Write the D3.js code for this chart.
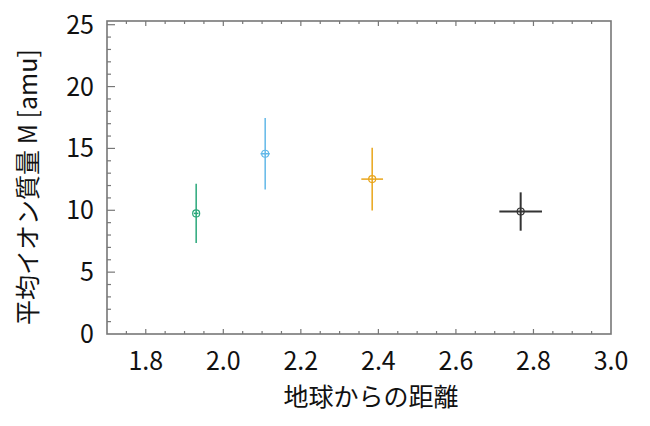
<!DOCTYPE html>
<html lang="ja">
<head>
<meta charset="UTF-8">
<title>平均イオン質量</title>
<script src="https://d3js.org/d3.v7.min.js"></script>
<style>
  body { margin: 0; background: #fff; }
  svg { display: block; font-family: "Noto Sans CJK JP", sans-serif; }
</style>
</head>
<body>
<svg width="650" height="426"></svg>
<script>
// values
const distance = [1.93, 2.108, 2.384, 2.767];
const distanceErr = [0.006, 0.012, 0.028, 0.055];
const meanMass = [9.75, 14.57, 12.52, 9.9];
const meanMassErr = [2.4, 2.88, 2.54, 1.55];
const pointColors = ["#2aa77a", "#62b8e8", "#e9a51a", "#333333"];
const xTicks = [1.8, 2.0, 2.2, 2.4, 2.6, 2.8, 3.0];
const yTicks = [0, 5, 10, 15, 20, 25];
const xLabel = "地球からの距離";
const yLabel = "平均イオン質量 M [amu]";

const svg = d3.select("svg");
const margin = { left: 107, right: 39, top: 21, bottom: 92 };
const width = 650, height = 426;

const x = d3.scaleLinear().domain([1.7, 3.0]).range([margin.left, width - margin.right]);
const y = d3.scaleLinear().domain([0, 25.3]).range([height - margin.bottom, margin.top]);

const frameColor = "#777";
const x0 = x.range()[0], x1 = x.range()[1], y0 = y.range()[0], y1 = y.range()[1];

// minor + major ticks, pointing inward
const xMinor = d3.range(1.75, 3.0, 0.05);
const yMinor = d3.range(1, 25.01, 1);
const ticks = svg.append("g").attr("stroke", frameColor).attr("stroke-width", 1.2);
xMinor.forEach(v => {
  const major = xTicks.some(t => Math.abs(t - v) < 1e-6);
  const len = major ? 5 : 3;
  ticks.append("line").attr("x1", x(v)).attr("x2", x(v)).attr("y1", y0).attr("y2", y0 - len);
  ticks.append("line").attr("x1", x(v)).attr("x2", x(v)).attr("y1", y1).attr("y2", y1 + len);
});
yMinor.forEach(v => {
  const major = yTicks.includes(Math.round(v)) ;
  const len = major ? 8 : 4;
  ticks.append("line").attr("x1", x0).attr("x2", x0 + len).attr("y1", y(v)).attr("y2", y(v));
});

svg.append("rect")
  .attr("x", x0).attr("y", y1)
  .attr("width", x1 - x0).attr("height", y0 - y1)
  .attr("fill", "none").attr("stroke", frameColor).attr("stroke-width", 1.6);

// tick labels
svg.append("g").selectAll("text").data(xTicks).join("text")
  .attr("x", d => x(d)).attr("y", 370)
  .attr("text-anchor", "middle")
  .attr("font-size", 25).attr("fill", "#111")
  .text(d => d.toFixed(1));

svg.append("g").selectAll("text").data(yTicks).join("text")
  .attr("x", 94).attr("y", d => y(d))
  .attr("dy", "0.36em")
  .attr("text-anchor", "end")
  .attr("font-size", 25).attr("fill", "#111")
  .text(d => d);

// axis titles
svg.append("text")
  .attr("x", 371).attr("y", 406)
  .attr("text-anchor", "middle")
  .attr("font-size", 25).attr("fill", "#111")
  .text(xLabel);

svg.append("text")
  .attr("transform", `translate(37,${187}) rotate(-90)`)
  .attr("text-anchor", "middle")
  .attr("font-size", 25).attr("fill", "#111")
  .text(yLabel);

// error bars and markers
const pts = distance.map((d, i) => ({
  x: d, dx: distanceErr[i], y: meanMass[i], dy: meanMassErr[i], c: pointColors[i]
}));

const g = svg.append("g").selectAll("g").data(pts).join("g")
  .attr("stroke", d => d.c).attr("fill", "none");

g.append("line")
  .attr("x1", d => x(d.x)).attr("x2", d => x(d.x))
  .attr("y1", d => y(d.y - d.dy)).attr("y2", d => y(d.y + d.dy))
  .attr("stroke-width", (d, i) => i === 3 ? 2 : 1.5);

g.append("line")
  .attr("x1", d => x(d.x - d.dx)).attr("x2", d => x(d.x + d.dx))
  .attr("y1", d => y(d.y)).attr("y2", d => y(d.y))
  .attr("stroke-width", (d, i) => i === 3 ? 2 : 1.5);

g.append("circle")
  .attr("cx", d => x(d.x)).attr("cy", d => y(d.y))
  .attr("r", 3.5)
  .attr("stroke-width", 1.2);
</script>
</body>
</html>
